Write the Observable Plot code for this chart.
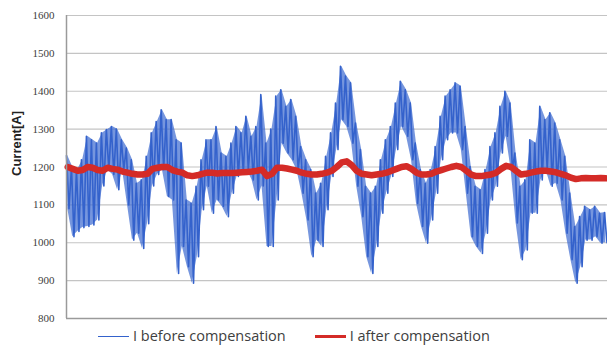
<!DOCTYPE html>
<html><head><meta charset="utf-8">
<script src="https://cdn.jsdelivr.net/npm/d3@7"></script>
<script src="https://cdn.jsdelivr.net/npm/@observablehq/plot@0.6"></script>
<style>
body{margin:0;background:#fff;width:607px;height:347px;overflow:hidden;}
#legend{position:absolute;left:0;top:323px;height:24px;display:flex;align-items:center;font-family:"Open Sans",sans-serif;font-size:14.5px;color:#404040;white-space:nowrap;}
.sw{display:inline-block;width:31px;vertical-align:middle;margin-right:4px;}
</style></head><body>
<div id="chart"></div>
<div id="legend"></div>
<script>
// Samples read every ~5 px across the plot (left to right)
const beforeHigh = [1230,1200,1193,1219,1281,1272,1263,1290,1299,1307,1300,1272,1250,1219,1157,1166,1228,1290,1320,1351,1325,
  1325,1272,1263,1113,1104,1149,1219,1272,1272,1307,1237,1228,1263,1307,1290,1334,1281,1307,1391,1263,1300,1387,
  1404,1360,1378,1334,1254,1219,1193,1131,1157,1228,1290,1369,1466,1440,1422,1316,1246,1149,1131,1149,1219,
  1272,1307,1369,1426,1404,1369,1263,1193,1157,1193,1254,1334,1387,1404,1422,1413,1307,1201,1149,1140,1193,1254,
  1290,1360,1400,1369,1237,1149,1166,1272,1263,1360,1325,1343,1316,1272,1228,1131,1043,1069,1096,1087,1096,1078,1080];
const beforeLow = [1090,1016,1030,1040,1043,1047,1060,1150,1193,1180,1140,1193,1100,1007,1025,985,1050,1150,1180,1193,1122,
  1113,919,990,937,893,963,1087,1149,1078,1113,1096,1069,1131,1175,1184,1193,1166,1113,1150,990,990,1113,
  1263,1237,1219,1193,1131,1060,963,1007,990,1087,1175,1246,1325,1307,1263,1149,1069,963,919,990,1078,
  1131,1175,1246,1307,1281,1219,1104,1043,999,1060,1131,1219,1272,1290,1290,1246,1131,1016,990,972,1025,1113,
  1149,1237,1281,1193,1052,955,981,1078,1078,1166,1193,1149,1157,1113,1025,955,893,937,1007,1007,1016,999,1000];
const afterMid = [1200,1195,1190,1192,1200,1198,1192,1190,1198,1195,1193,1188,1185,1182,1180,1180,1182,1195,1198,1200,1200,
  1192,1188,1185,1178,1176,1178,1182,1185,1185,1183,1184,1184,1184,1185,1186,1187,1188,1190,1193,1176,1182,1198,
  1198,1196,1193,1190,1185,1182,1180,1180,1182,1185,1190,1200,1212,1215,1205,1190,1182,1180,1178,1180,1182,
  1185,1190,1195,1200,1202,1195,1185,1180,1180,1182,1188,1192,1196,1200,1203,1200,1190,1180,1176,1176,1178,1180,
  1185,1195,1203,1200,1190,1180,1182,1185,1188,1190,1190,1188,1186,1182,1178,1172,1168,1170,1171,1170,1170,1171,1170];
const yTicks = [800,900,1000,1100,1200,1300,1400,1500,1600];
const seriesNames = ["I before compensation","I after compensation"];
const seriesColors = ["#3462cc","#d42b27"];
const yLabel = "Current[A]";

const idx = beforeHigh.map((_, i) => i);
const zig = [];
idx.forEach(i => { zig.push({x: i, y: beforeHigh[i]}); zig.push({x: i + 0.5, y: beforeLow[i]}); });
const after = idx.map(i => ({x: i + 0.25, y: afterMid[i]}));

const chart = Plot.plot({
  width: 607, height: 323,
  marginLeft: 66, marginRight: 0, marginTop: 15, marginBottom: 5,
  x: {domain: [0, idx.length - 0.4], axis: null},
  y: {domain: [800, 1600]},
  style: {background: "#fff"},
  marks: [
    Plot.gridY(yTicks, {stroke: "#c4c4c4", strokeOpacity: 1, strokeWidth: 1.2}),
    Plot.areaY(idx, {x: i => i + 0.25, y1: i => beforeLow[i], y2: i => beforeHigh[i], fill: "#3c6ad0", fillOpacity: 0.7, curve: "linear"}),
    Plot.line(zig, {x: "x", y: "y", stroke: seriesColors[0], strokeWidth: 1.6}),
    Plot.line(after, {x: "x", y: "y", stroke: seriesColors[1], strokeWidth: 6.5, curve: "linear"}),
    Plot.ruleX([0], {stroke: "#9a9a9a", strokeWidth: 1.5}),
    Plot.ruleY([800], {stroke: "#9a9a9a", strokeWidth: 1.5}),
    Plot.axisY(yTicks, {tickSize: 0, tickPadding: 12, label: null, tickFormat: d => String(d), fill: "#404040", fontFamily: "Liberation Serif", fontSize: 11}),
    Plot.text([yLabel], {frameAnchor: "left", rotate: -90, dx: -50, dy: 9, fontFamily: "Liberation Sans", fontWeight: "bold", fontSize: 13, fill: "#222"})
  ]
});
document.getElementById("chart").appendChild(chart);

const lg = document.getElementById("legend");
lg.innerHTML =
  `<span style="margin-left:98px"><span class="sw" style="height:1.5px;background:${seriesColors[0]}"></span>${seriesNames[0]}</span>` +
  `<span style="margin-left:29px"><span class="sw" style="height:2.5px;background:${seriesColors[1]}"></span>${seriesNames[1]}</span>`;
</script>
</body></html>
